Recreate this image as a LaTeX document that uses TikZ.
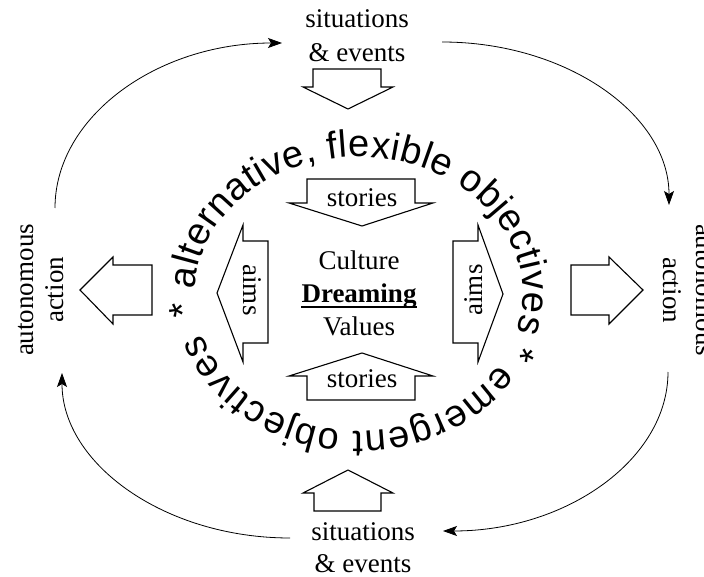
\documentclass[tikz,border=0pt]{standalone}
\usepackage{fontspec}
\setmainfont{Liberation Serif}
\setsansfont{Liberation Sans}
\usetikzlibrary{arrows.meta,decorations.text}
\begin{document}
\begin{tikzpicture}[x=1pt,y=-1pt,
  lbl/.style={inner sep=0pt, font=\fontsize{27}{33}\selectfont},
  blk/.style={draw, line width=1.1pt, line join=miter},
  cyc/.style={line width=0.8pt, -{Stealth[length=14pt,width=10pt,inset=3pt]}},
  ringtext/.style={decorate, decoration={text along path, text align={fit to path},
    text={|\fontsize{38}{40}\selectfont\sffamily|#1}}}]
\clip (0,0) rectangle (704,577);
% outer labels
\node[lbl,anchor=base] (sitT1) at (357,28) {situations};
\node[lbl,anchor=base] (sitT2) at (357,62) {\& events};
\node[lbl,anchor=base] (sitB1) at (363,540) {situations};
\node[lbl,anchor=base] (sitB2) at (363,572) {\& events};
\node[lbl,anchor=base,rotate=90] (autL1) at (33,290) {autonomous};
\node[lbl,anchor=base,rotate=90] (autL2) at (63,290) {action};
\node[lbl,anchor=base,rotate=-90] (autR1) at (696,290) {autonomous};
\node[lbl,anchor=base,rotate=-90] (autR2) at (663,290) {action};
% centre
\node[lbl,anchor=base] (cult) at (359,270) {Culture};
\node[lbl,anchor=base,font=\fontsize{27}{33}\selectfont\bfseries] (dream) at (359,302) {Dreaming};
\node[lbl,anchor=base] (vals) at (359,335) {Values};
\draw[line width=1.8pt] ([yshift=-5pt]dream.base west) -- ([yshift=-5pt]dream.base east);
% inner block arrows
\draw[blk] (362,226) -- (289,203) -- (307,203) -- (307,179) -- (415,179) -- (415,203) -- (433,203) -- cycle;
\draw[blk] (362,353) -- (289,376) -- (307,376) -- (307,400) -- (415,400) -- (415,376) -- (433,376) -- cycle;
\draw[blk] (217,293) -- (243,225) -- (243,241) -- (268,241) -- (268,343) -- (243,343) -- (243,362) -- cycle;
\draw[blk] (503,294) -- (478,225) -- (478,241) -- (453,241) -- (453,343) -- (478,343) -- (478,362) -- cycle;
\node[lbl,anchor=base] (stT) at (362,207) {stories};
\node[lbl,anchor=base] (stB) at (362,387) {stories};
\node[lbl,anchor=base,rotate=-90] (aimL) at (243,290) {aims};
\node[lbl,anchor=base,rotate=90] (aimR) at (482,290) {aims};
% outer block arrows
\draw[blk] (348,109) -- (303,87) -- (313,87) -- (313,69) -- (381,69) -- (381,87) -- (393,87) -- cycle;
\draw[blk] (348,470) -- (303,493) -- (314,493) -- (314,511) -- (381,511) -- (381,493) -- (393,493) -- cycle;
\draw[blk] (80,290) -- (113,257) -- (113,265) -- (152,265) -- (152,315) -- (113,315) -- (113,324) -- cycle;
\draw[blk] (643,290) -- (609,257) -- (609,265) -- (571,265) -- (571,315) -- (609,315) -- (609,324) -- cycle;
% cycle arrows
\coordinate (cA1) at (55,208); \coordinate (cA2) at (282,43);
\draw[cyc] (cA1) .. controls (55,117) and (157,43) .. (cA2);
\coordinate (cB1) at (442,42); \coordinate (cB2) at (669,205);
\draw[cyc] (cB1) .. controls (567,42) and (669,115) .. (cB2);
\coordinate (cC1) at (668,372); \coordinate (cC2) at (443,531);
\draw[cyc] (cC1) .. controls (668,459) and (567,531) .. (cC2);
\coordinate (cD1) at (290,538); \coordinate (cD2) at (62,373);
\draw[cyc] (cD1) .. controls (165,538) and (62,464) .. (cD2);
% ring text
\path[ringtext={* alternative, flexible objectives}]
  ([shift={(359,294)}]171:164 and 137) arc[start angle=171, end angle=376, x radius=164, y radius=137];
\path[ringtext={* emergent objectives}]
  ([shift={(359,294)}]380:164 and 137) arc[start angle=380, end angle=523, x radius=164, y radius=137];
\end{tikzpicture}
\end{document}
